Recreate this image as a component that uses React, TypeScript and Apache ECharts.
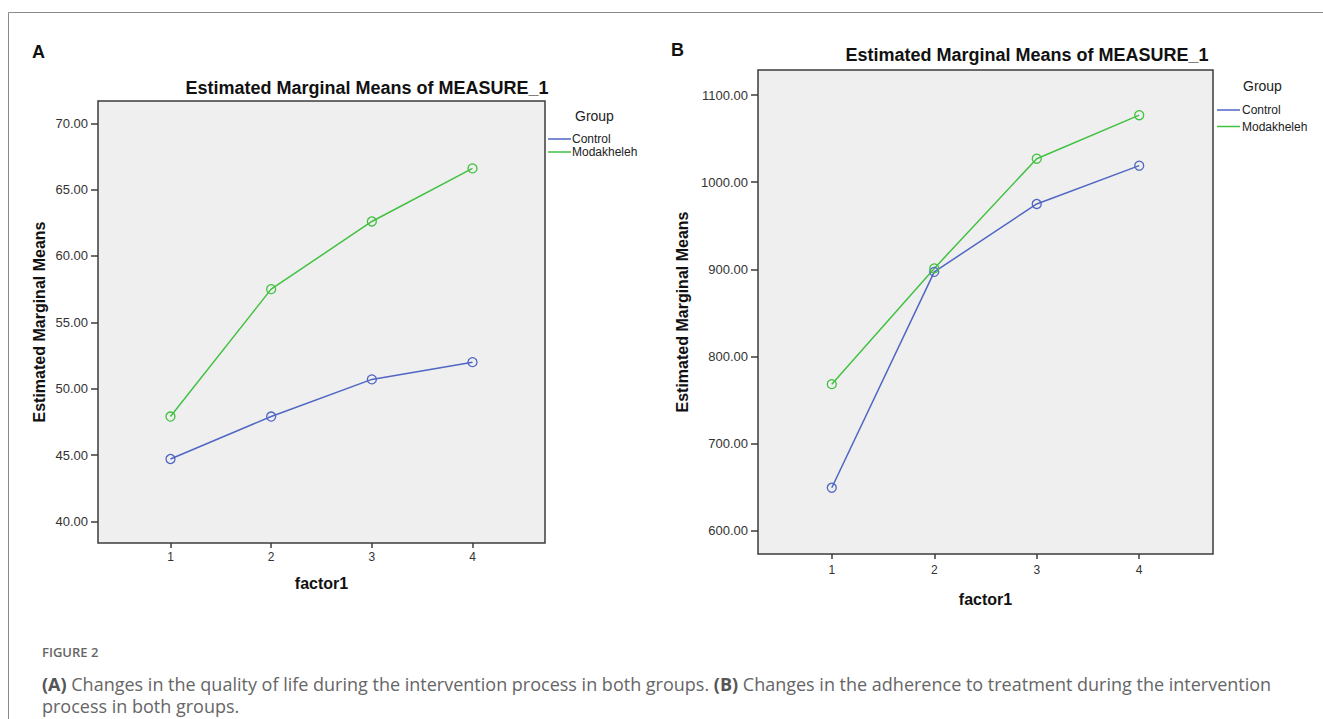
import React, { useEffect, useRef } from "react";
import * as echarts from "echarts";

const factorLevels = [1, 2, 3, 4];
const groupNames = ["Control", "Modakheleh"];
const groupColors = ["#4f66c4", "#41c141"];
const qolControl = [44.7, 47.9, 50.7, 52.0];
const qolModakheleh = [47.9, 57.5, 62.6, 66.6];
const adhControl = [649, 897, 975, 1019];
const adhModakheleh = [768, 901, 1027, 1077];
const qolTicks = [40, 45, 50, 55, 60, 65, 70];
const adhTicks = [600, 700, 800, 900, 1000, 1100];

const chartTitle = "Estimated Marginal Means of MEASURE_1";
const yName = "Estimated Marginal Means";
const xName = "factor1";
const legendTitle = "Group";
const figureLabel = "FIGURE 2";
const captionLine1 =
  "{b|(A)}{t| Changes in the quality of life during the intervention process in both groups. }{b|(B)}{t| Changes in the adherence to treatment during the intervention}";
const captionLine2 = "{t|process in both groups.}";

const FONT = "'Liberation Sans', Arial, sans-serif";
const CAPFONT = "'Open Sans', 'Noto Sans', sans-serif";

export default function App() {
  const ref = useRef<HTMLDivElement>(null);
  useEffect(() => {
    document.body.style.margin = "0";
    const chart = echarts.init(ref.current!, null, { renderer: "svg" });

    const panels = [
      { grid: { left: 98, top: 101, width: 447, height: 442 }, ymin: 38.37, ymax: 71.68, ticks: qolTicks, data: [qolControl, qolModakheleh], yGap: 51, xGap: 32, xLabelMargin: 8 },
      { grid: { left: 758, top: 70, width: 455, height: 484 }, ymin: 572.9, ymax: 1128.9, ticks: adhTicks, data: [adhControl, adhModakheleh], yGap: 68, xGap: 37, xLabelMargin: 10 },
    ];

    const grids = panels.map((p) => ({
      ...p.grid,
      show: true,
      backgroundColor: "#efefef",
      borderColor: "#3c3c3c",
      borderWidth: 1.5,
      containLabel: false,
    }));

    const xAxes = panels.map((p, i) => ({
      type: "value",
      gridIndex: i,
      min: 0.28,
      max: 4.72,
      name: xName,
      nameLocation: "middle",
      nameGap: p.xGap,
      nameTextStyle: { fontFamily: FONT, fontWeight: "bold", fontSize: 16, color: "#111" },
      axisLine: { show: false },
      splitLine: { show: false },
      axisTick: { show: true, length: 5, lineStyle: { color: "#3c3c3c", width: 1.5 }, customValues: factorLevels },
      axisLabel: { customValues: factorLevels, fontFamily: FONT, fontSize: 12, color: "#333", margin: p.xLabelMargin, formatter: (v: number) => String(v) },
    }));

    const yAxes = panels.map((p, i) => ({
      type: "value",
      gridIndex: i,
      min: p.ymin,
      max: p.ymax,
      name: yName,
      nameLocation: "middle",
      nameGap: p.yGap,
      nameTextStyle: { fontFamily: FONT, fontWeight: "bold", fontSize: 16, color: "#111" },
      axisLine: { show: false },
      splitLine: { show: false },
      axisTick: { show: true, length: 7, lineStyle: { color: "#3c3c3c", width: 1.5 }, customValues: p.ticks },
      axisLabel: { customValues: p.ticks, fontFamily: FONT, fontSize: 13, color: "#333", margin: 10, formatter: (v: number) => v.toFixed(2) },
    }));

    const series: any[] = [];
    panels.forEach((p, i) => {
      p.data.forEach((vals, g) => {
        series.push({
          type: "line",
          name: groupNames[g],
          xAxisIndex: i,
          yAxisIndex: i,
          data: factorLevels.map((f, k) => [f, vals[k]]),
          symbol: "circle",
          symbolSize: 9,
          itemStyle: { color: "rgba(0,0,0,0)", borderColor: groupColors[g], borderWidth: 1.3 },
          lineStyle: { color: groupColors[g], width: 1.5 },
          z: 3,
        });
      });
    });

    const legendCfg = [
      { gx: 575, gy: 116, lx: 548, lw: 23, tx: 572, rows: [139, 152] },
      { gx: 1243, gy: 86, lx: 1217, lw: 23, tx: 1242, rows: [110, 126.5] },
    ];
    const graphics: any[] = [
      { type: "rect", shape: { x: 8.5, y: 12.5, width: 1500, height: 900 }, style: { fill: "none", stroke: "#8a8a8a", lineWidth: 1 }, silent: true },
      { type: "text", x: 32, y: 52, style: { text: "A", font: `bold 18px ${FONT}`, fill: "#111", verticalAlign: "middle" } },
      { type: "text", x: 671, y: 50, style: { text: "B", font: `bold 18px ${FONT}`, fill: "#111", verticalAlign: "middle" } },
      { type: "text", x: 367, y: 88, style: { text: chartTitle, font: `bold 18px ${FONT}`, fill: "#111", align: "center", verticalAlign: "middle" } },
      { type: "text", x: 1027, y: 55, style: { text: chartTitle, font: `bold 18px ${FONT}`, fill: "#111", align: "center", verticalAlign: "middle" } },
      { type: "text", x: 42, y: 652, style: { text: figureLabel, font: `600 13px ${CAPFONT}`, fill: "#666", verticalAlign: "middle" } },
      {
        type: "text",
        x: 42,
        y: 673,
        style: {
          text: captionLine1 + "\n" + captionLine2,
          font: `18px ${CAPFONT}`,
          fill: "#666",
          lineHeight: 22,
          verticalAlign: "top",
          rich: {
            b: { fontFamily: CAPFONT, fontWeight: "bold", fontSize: 18, fill: "#555", lineHeight: 22 },
            t: { fontFamily: CAPFONT, fontSize: 18, fill: "#666", lineHeight: 22 },
          },
        },
      },
    ];
    legendCfg.forEach((lg) => {
      graphics.push({ type: "text", x: lg.gx, y: lg.gy, style: { text: legendTitle, font: `14px ${FONT}`, fill: "#222", verticalAlign: "middle" } });
      groupNames.forEach((n, g) => {
        graphics.push({ type: "line", shape: { x1: lg.lx, y1: lg.rows[g], x2: lg.lx + lg.lw, y2: lg.rows[g] }, style: { stroke: groupColors[g], lineWidth: 1.5 } });
        graphics.push({ type: "text", x: lg.tx, y: lg.rows[g], style: { text: n, font: `12px ${FONT}`, fill: "#222", verticalAlign: "middle" } });
      });
    });

    chart.setOption({
      animation: false,
      backgroundColor: "#ffffff",
      grid: grids,
      xAxis: xAxes,
      yAxis: yAxes,
      series,
      graphic: graphics,
    });
    return () => chart.dispose();
  }, []);
  return <div ref={ref} style={{ width: 1323, height: 719 }} />;
}
